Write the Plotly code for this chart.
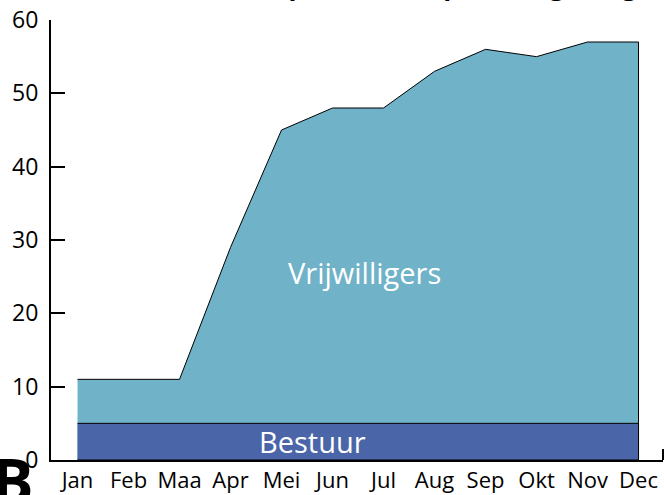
import plotly.graph_objects as go

months = ["Jan", "Feb", "Maa", "Apr", "Mei", "Jun", "Jul", "Aug", "Sep", "Okt", "Nov", "Dec"]
vrijwilligers = [11, 11, 11, 29, 45, 48, 48, 53, 56, 55, 57, 57]
bestuur = [5, 5, 5, 5, 5, 5, 5, 5, 5, 5, 5, 5]
y_ticks = [0, 10, 20, 30, 40, 50, 60]

idx = list(range(len(months)))

TEAL = "#70b2c8"
BLUE = "#4a66a8"
FONT = "Open Sans"

fig = go.Figure()

# Vrijwilligers area (closed polygon down to zero)
fig.add_trace(go.Scatter(
    x=idx + [idx[-1], idx[0]],
    y=vrijwilligers + [0, 0],
    mode="lines",
    fill="toself",
    fillcolor=TEAL,
    line=dict(color="black", width=1),
    hoverinfo="skip",
    showlegend=False,
))

# Bestuur band
fig.add_trace(go.Scatter(
    x=idx + idx[::-1],
    y=bestuur + [0] * len(idx),
    mode="lines",
    fill="toself",
    fillcolor=BLUE,
    line=dict(color="black", width=1),
    hoverinfo="skip",
    showlegend=False,
))

fig.add_annotation(x=5.62, y=25.6, xref="x", yref="y", text="Vrijwilligers",
                   showarrow=False, font=dict(family=FONT, size=29, color="white"))
fig.add_annotation(x=4.6, y=2.5, xref="x", yref="y", text="Bestuur",
                   showarrow=False, font=dict(family=FONT, size=29, color="white"))

# Title (mostly above the visible area, only descenders show)
fig.add_annotation(x=0.2337, y=1.035, xref="paper", yref="paper", xanchor="left", yanchor="bottom",
                   text="<b>Aantal personeel – per categorie gemiddeld</b>",
                   showarrow=False, font=dict(family=FONT, size=26, color="black"))

# Panel letter
fig.add_annotation(x=-0.024, y=0.055, xref="paper", yref="paper", xanchor="right", yanchor="top",
                   text="<b>B</b>", showarrow=False,
                   font=dict(family=FONT, size=62, color="black"))

# right-end tick of x axis
fig.add_shape(type="line", xref="paper", yref="paper", x0=1, x1=1, y0=0, y1=0.025,
              line=dict(color="black", width=2))

fig.update_layout(
    width=664, height=495,
    margin=dict(l=51, r=1, t=20, b=33),
    paper_bgcolor="white", plot_bgcolor="white",
    font=dict(family=FONT, size=22, color="black"),
    showlegend=False,
)
fig.update_xaxes(
    range=[-0.52, 11.48],
    tickmode="array", tickvals=idx, ticktext=months,
    tickangle=0,
    showgrid=False, zeroline=False,
    showline=True, linecolor="black", linewidth=2,
    ticks="", tickfont=dict(family=FONT, size=22, color="black"),
)
fig.update_yaxes(
    range=[0, 60],
    tickmode="array", tickvals=y_ticks,
    showgrid=False, zeroline=False,
    showline=True, linecolor="black", linewidth=2,
    ticks="inside", ticklen=14, tickwidth=2, tickcolor="black",
    ticklabelstandoff=6,
    tickfont=dict(family=FONT, size=23, color="black"),
)

fig.write_html("out.html", config={"displayModeBar": False},
               post_script="document.body.style.margin='0';document.body.style.overflow='hidden';")
